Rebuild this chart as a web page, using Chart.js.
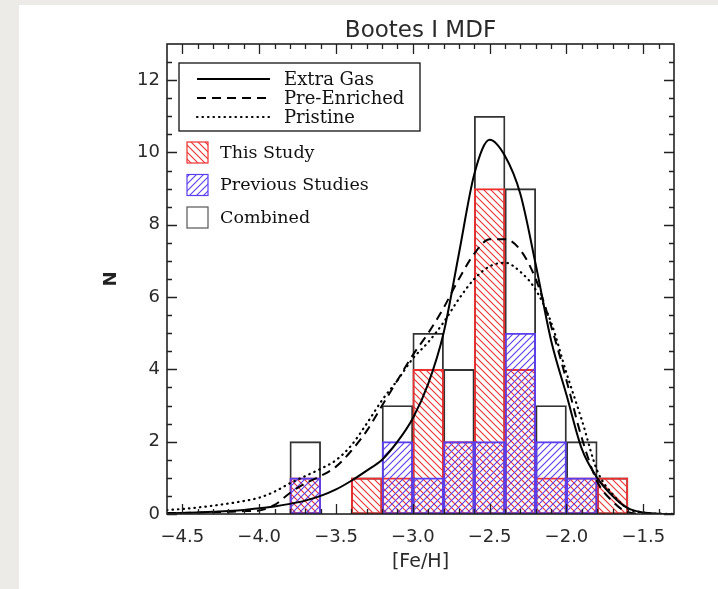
<!DOCTYPE html>
<html>
<head>
<meta charset="utf-8">
<title>Bootes I MDF</title>
<script src="https://cdn.jsdelivr.net/npm/chart.js@4.4.1/dist/chart.umd.min.js"></script>
<style>
  html, body { margin: 0; padding: 0; }
  body { width: 718px; height: 589px; background: #ecebe8; position: relative; overflow: hidden; }
  #panel { position: absolute; left: 19px; top: 5px; right: 0; bottom: 0; background: #fff; }
  #mdfChart { position: absolute; left: 0; top: 0; }
</style>
</head>
<body>
<div id="panel"></div>
<canvas id="mdfChart" width="718" height="589"></canvas>
<script>
// histogram bins (0.2 dex wide)
const binCenters = [-3.7, -3.5, -3.3, -3.1, -2.9, -2.7, -2.5, -2.3, -2.1, -1.9, -1.7];
const thisStudy = [1, 0, 1, 1, 4, 2, 9, 4, 1, 1, 1];
const previousStudies = [1, 0, 0, 2, 1, 2, 2, 5, 2, 1, 0];
const combined = [2, 0, 1, 3, 5, 4, 11, 9, 3, 2, 1];

// model curves
const modelFeH = [-4.6, -4.5, -4.4, -4.3, -4.2, -4.1, -4.0, -3.9, -3.8, -3.7,
  -3.6, -3.5, -3.4, -3.3, -3.2, -3.1, -3.0, -2.9, -2.8, -2.7,
  -2.6, -2.5, -2.4, -2.3, -2.2, -2.1, -2.0, -1.9, -1.8, -1.7,
  -1.6, -1.5, -1.4, -1.3];
const extraGas = [0.02, 0.03, 0.04, 0.06, 0.08, 0.11, 0.16, 0.21, 0.28, 0.37,
  0.5, 0.68, 0.92, 1.2, 1.5, 2.0, 2.65, 3.6, 5.0, 7.2,
  9.4, 10.35, 9.9, 8.85, 6.9, 4.8, 3.3, 1.8, 1.0, 0.5,
  0.16, 0.04, 0.01, 0];
const preEnriched = [0.03, 0.03, 0.04, 0.05, 0.06, 0.08, 0.1, 0.25, 0.58, 0.85,
  1.05, 1.31, 1.75, 2.3, 3.0, 3.7, 4.4, 5.0, 5.7, 6.5,
  7.2, 7.6, 7.6, 7.3, 6.5, 5.2, 3.7, 2.1, 0.9, 0.35,
  0.05, 0.01, 0, 0];
const pristine = [0.11, 0.14, 0.18, 0.23, 0.29, 0.36, 0.45, 0.62, 0.85, 1.05,
  1.25, 1.49, 1.9, 2.5, 3.15, 3.7, 4.3, 4.75, 5.3, 5.95,
  6.5, 6.85, 6.95, 6.7, 6.2, 5.3, 3.9, 2.6, 1.2, 0.55,
  0.15, 0.04, 0.01, 0];

const xTicks = [-4.5, -4.0, -3.5, -3.0, -2.5, -2.0, -1.5];
const xTickLabels = ['−4.5', '−4.0', '−3.5', '−3.0', '−2.5', '−2.0', '−1.5'];
const yTicks = [0, 2, 4, 6, 8, 10, 12];
const yTickLabels = ['0', '2', '4', '6', '8', '10', '12'];

const RED = '#ee3030';
const BLUE = '#5a3fee';

const canvas = document.getElementById('mdfChart');
const ctx0 = canvas.getContext('2d');

// diagonal hatch fill, dir > 0 is "/" and dir < 0 is "\"
function hatch(color, dir) {
  const s = 7;
  const c = document.createElement('canvas');
  c.width = s; c.height = s;
  const g = c.getContext('2d');
  g.strokeStyle = color;
  g.lineWidth = 1.1;
  g.beginPath();
  if (dir > 0) {
    g.moveTo(-1, s + 1); g.lineTo(s + 1, -1);
    g.moveTo(-1, 1); g.lineTo(1, -1);
    g.moveTo(s - 1, s + 1); g.lineTo(s + 1, s - 1);
  } else {
    g.moveTo(-1, -1); g.lineTo(s + 1, s + 1);
    g.moveTo(s - 1, -1); g.lineTo(s + 1, 1);
    g.moveTo(-1, s - 1); g.lineTo(1, s + 1);
  }
  g.stroke();
  return ctx0.createPattern(c, 'repeat');
}
const redHatch = hatch(RED, -1);
const blueHatch = hatch(BLUE, 1);

const toXY = (xs, ys) => xs.map((v, i) => ({ x: v, y: ys[i] }));

// IDL style frame with inward ticks on all four sides
const framePlugin = {
  id: 'frame',
  afterDatasetsDraw(chart) {
    const { ctx, chartArea: a, scales: { x, y } } = chart;
    ctx.save();
    ctx.strokeStyle = '#222';
    ctx.lineWidth = 1.3;
    ctx.beginPath();
    const xt = (v, len) => {
      const p = Math.round(x.getPixelForValue(v)) + 0.5;
      ctx.moveTo(p, a.bottom); ctx.lineTo(p, a.bottom - len);
      ctx.moveTo(p, a.top); ctx.lineTo(p, a.top + len);
    };
    const yt = (v, len) => {
      const p = Math.round(y.getPixelForValue(v)) + 0.5;
      ctx.moveTo(a.left, p); ctx.lineTo(a.left + len, p);
      ctx.moveTo(a.right, p); ctx.lineTo(a.right - len, p);
    };
    for (let i = 1; i < 33; i++) xt(-4.6 + i * 0.1, 5);
    xTicks.forEach(v => xt(v, 10));
    for (let i = 1; i < 26; i++) yt(i * 0.5, 5);
    yTicks.forEach(v => yt(v, 10));
    ctx.stroke();
    ctx.lineWidth = 1.6;
    ctx.strokeRect(a.left, a.top, a.right - a.left, a.bottom - a.top);
    ctx.restore();
  }
};

const legendPlugin = {
  id: 'boxLegend',
  afterDraw(chart) {
    const { ctx, chartArea: a } = chart;
    const ds = chart.data.datasets;
    const L = a.left, T = a.top;
    ctx.save();
    ctx.fillStyle = '#fff';
    ctx.fillRect(L + 12, T + 19, 241, 68);
    ctx.strokeStyle = '#111';
    ctx.lineWidth = 1.3;
    ctx.strokeRect(L + 12, T + 19, 241, 68);

    ctx.font = '18px "DejaVu Serif"';
    ctx.textBaseline = 'middle';
    ctx.textAlign = 'left';
    ctx.fillStyle = '#111';
    [0, 1, 2].forEach((k, i) => {
      const yy = T + 35 + i * 19;
      ctx.save();
      ctx.strokeStyle = '#000';
      ctx.lineWidth = ds[k].borderWidth;
      ctx.lineCap = ds[k].borderCapStyle || 'butt';
      ctx.setLineDash(ds[k].borderDash || []);
      ctx.beginPath();
      ctx.moveTo(L + 30, yy); ctx.lineTo(L + 103, yy);
      ctx.stroke();
      ctx.restore();
      ctx.fillText(ds[k].label, L + 117, yy + 1);
    });

    ctx.font = '17.5px "DejaVu Serif"';
    [4, 3, 5].forEach((k, i) => {
      const yy = T + 98 + i * 32.5;
      ctx.fillStyle = ds[k].backgroundColor;
      ctx.fillRect(L + 20, yy, 21, 21);
      ctx.strokeStyle = k === 5 ? '#555' : ds[k].borderColor;
      ctx.lineWidth = 1.2;
      ctx.strokeRect(L + 20, yy, 21, 21);
      ctx.fillStyle = '#111';
      ctx.fillText(ds[k].label, L + 53, yy + 11);
    });
    ctx.restore();
  }
};

const barCommon = {
  borderWidth: 1.2,
  borderSkipped: false,
  grouped: false,
  barPercentage: 1,
  categoryPercentage: 1
};

const lineCommon = {
  type: 'line',
  borderColor: '#000',
  pointRadius: 0,
  fill: false,
  cubicInterpolationMode: 'monotone',
  order: 0
};

new Chart(canvas, {
  type: 'bar',
  data: {
    datasets: [
      { ...lineCommon, label: 'Extra Gas', data: toXY(modelFeH, extraGas), borderWidth: 2 },
      { ...lineCommon, label: 'Pre-Enriched', data: toXY(modelFeH, preEnriched), borderWidth: 2, borderDash: [9, 6] },
      { ...lineCommon, label: 'Pristine', data: toXY(modelFeH, pristine), borderWidth: 2.2,
        borderDash: [0.5, 5], borderCapStyle: 'round' },
      { ...barCommon, label: 'Previous Studies', data: toXY(binCenters, previousStudies),
        backgroundColor: blueHatch, borderColor: BLUE, order: 1 },
      { ...barCommon, label: 'This Study', data: toXY(binCenters, thisStudy),
        backgroundColor: redHatch, borderColor: RED, order: 2 },
      { ...barCommon, label: 'Combined', data: toXY(binCenters, combined),
        backgroundColor: 'rgba(0,0,0,0)', borderColor: '#333', order: 3 }
    ]
  },
  options: {
    responsive: false,
    animation: false,
    events: [],
    layout: { padding: { left: 0, right: 44, top: 0, bottom: 0 } },
    scales: {
      x: {
        type: 'linear',
        min: -4.6,
        max: -1.3,
        offset: false,
        grid: { display: false, drawTicks: false },
        border: { display: false },
        afterBuildTicks: s => { s.ticks = xTicks.map(v => ({ value: v })); },
        afterFit: s => { s.height = 75; },
        ticks: {
          callback: (v, i) => xTickLabels[i],
          font: { family: 'DejaVu Sans', size: 18 },
          color: '#2a2a2a',
          padding: 13,
          maxRotation: 0,
          autoSkip: false
        },
        title: {
          display: true,
          text: '[Fe/H]',
          font: { family: 'DejaVu Sans', size: 19 },
          color: '#2a2a2a',
          padding: { top: 0, bottom: 16 }
        }
      },
      y: {
        min: 0,
        max: 13,
        grid: { display: false, drawTicks: false },
        border: { display: false },
        afterBuildTicks: s => { s.ticks = yTicks.map(v => ({ value: v })); },
        afterFit: s => { s.width = 167; },
        ticks: {
          callback: (v, i) => yTickLabels[i],
          font: { family: 'DejaVu Sans', size: 18 },
          color: '#2a2a2a',
          padding: 7
        },
        title: {
          display: true,
          text: 'N',
          font: { family: 'DejaVu Sans', size: 18, weight: 'bold' },
          color: '#222',
          padding: { top: 101, bottom: 0 }
        }
      }
    },
    plugins: {
      legend: { display: false },
      tooltip: { enabled: false },
      title: {
        display: true,
        text: 'Bootes I MDF',
        fullSize: false,
        font: { family: 'DejaVu Sans', size: 23, weight: 'normal', lineHeight: 1 },
        color: '#2a2a2a',
        padding: { top: 20, bottom: 1 }
      }
    }
  },
  plugins: [framePlugin, legendPlugin]
});
</script>
</body>
</html>
